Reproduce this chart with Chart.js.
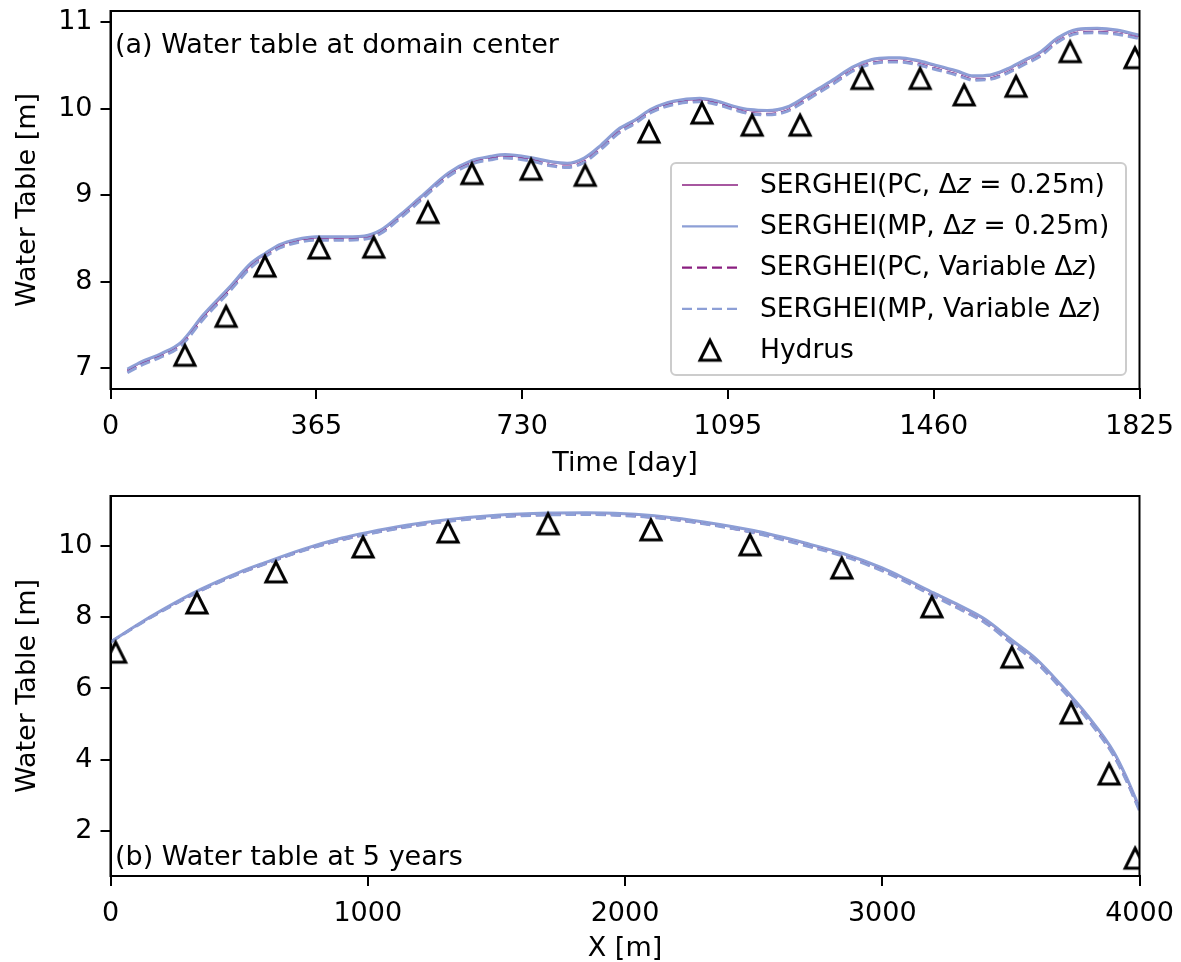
<!DOCTYPE html>
<html>
<head>
<meta charset="utf-8">
<script src="https://cdn.jsdelivr.net/npm/chart.js@4.4.0/dist/chart.umd.min.js"></script>
<style>
  html, body { margin: 0; padding: 0; background: #fff; }
  #wrap { position: relative; width: 1181px; height: 962px; }
  .box { position: absolute; left: 0; width: 1181px; }
  #top { top: 0; height: 480px; }
  #bot { top: 480px; height: 482px; }
</style>
</head>
<body>
<div id="wrap">
  <div class="box" id="top"><canvas id="c1"></canvas></div>
  <div class="box" id="bot"><canvas id="c2"></canvas></div>
</div>
<script>
// (a) water table at domain center vs time
const dayA = [30, 60, 90, 125, 165, 210, 250, 275, 300, 330, 365, 400, 450, 480, 515, 550, 600, 640, 675, 700,
  750, 780, 810, 840, 870, 900, 930, 960, 1000, 1045, 1075, 1105, 1135, 1165, 1200, 1230, 1255, 1285, 1315, 1350,
  1380, 1400, 1430, 1460, 1500, 1530, 1560, 1590, 1620, 1650, 1680, 1715, 1750, 1785, 1825];
const pcSolidA = [6.98, 7.08, 7.16, 7.29, 7.60, 7.91, 8.20, 8.32, 8.42, 8.48, 8.51, 8.51, 8.52, 8.59, 8.77, 8.97, 9.25, 9.39, 9.44, 9.46,
  9.42, 9.38, 9.36, 9.42, 9.57, 9.75, 9.86, 9.99, 10.08, 10.11, 10.08, 10.02, 9.98, 9.97, 10.01, 10.12, 10.22, 10.34, 10.47, 10.56,
  10.58, 10.58, 10.55, 10.50, 10.43, 10.37, 10.38, 10.45, 10.55, 10.65, 10.81, 10.91, 10.92, 10.90, 10.84];
const mpSolidA = [6.99, 7.09, 7.17, 7.30, 7.62, 7.93, 8.22, 8.33, 8.43, 8.49, 8.52, 8.52, 8.53, 8.60, 8.78, 8.98, 9.26, 9.40, 9.45, 9.47,
  9.43, 9.39, 9.37, 9.43, 9.58, 9.76, 9.87, 10.00, 10.09, 10.12, 10.09, 10.03, 9.99, 9.98, 10.02, 10.13, 10.23, 10.35, 10.48, 10.57,
  10.59, 10.59, 10.56, 10.51, 10.44, 10.38, 10.39, 10.46, 10.56, 10.66, 10.82, 10.92, 10.93, 10.91, 10.85];
const pcVarA = [6.96, 7.06, 7.14, 7.27, 7.58, 7.89, 8.18, 8.30, 8.40, 8.46, 8.49, 8.49, 8.50, 8.57, 8.75, 8.95, 9.23, 9.37, 9.42, 9.44,
  9.40, 9.35, 9.33, 9.39, 9.54, 9.72, 9.84, 9.97, 10.06, 10.09, 10.06, 10.00, 9.95, 9.94, 9.98, 10.09, 10.19, 10.31, 10.44, 10.53,
  10.55, 10.55, 10.52, 10.47, 10.40, 10.34, 10.35, 10.42, 10.52, 10.62, 10.78, 10.88, 10.89, 10.87, 10.82];
const mpVarA = [6.95, 7.05, 7.13, 7.26, 7.57, 7.88, 8.17, 8.29, 8.39, 8.45, 8.48, 8.48, 8.49, 8.56, 8.74, 8.94, 9.22, 9.36, 9.41, 9.43,
  9.39, 9.34, 9.32, 9.38, 9.53, 9.71, 9.83, 9.96, 10.05, 10.08, 10.05, 9.99, 9.94, 9.93, 9.97, 10.08, 10.18, 10.30, 10.43, 10.52,
  10.54, 10.54, 10.51, 10.46, 10.39, 10.33, 10.34, 10.41, 10.51, 10.61, 10.77, 10.87, 10.88, 10.86, 10.81];
const hydrusDayA = [132, 205, 274, 370, 467, 563, 641, 746, 842, 955, 1049, 1138, 1223, 1333, 1436, 1514, 1606, 1702, 1817];
const hydrusA = [7.15, 7.60, 8.18, 8.39, 8.40, 8.80, 9.25, 9.30, 9.23, 9.73, 9.95, 9.81, 9.81, 10.35, 10.35, 10.16, 10.26, 10.66, 10.59];
const xTicksA = [0, 365, 730, 1095, 1460, 1825];
const yTicksA = [7, 8, 9, 10, 11];

// (b) water table profile at 5 years
const xB = [0, 100, 200, 350, 500, 600, 750, 900, 1000, 1150, 1300, 1500, 1700, 1850, 2000, 2150, 2300, 2500, 2700, 2850,
  3000, 3100, 3200, 3300, 3400, 3500, 3600, 3700, 3800, 3900, 3950, 4000];
const pcSolidB = [7.30, 7.76, 8.19, 8.77, 9.25, 9.52, 9.90, 10.21, 10.37, 10.57, 10.72, 10.85, 10.91, 10.92, 10.89, 10.81, 10.67, 10.42, 10.07, 9.77,
  9.37, 9.03, 8.67, 8.31, 7.92, 7.36, 6.80, 6.04, 5.20, 4.19, 3.47, 2.62];
const mpSolidB = [7.30, 7.77, 8.20, 8.78, 9.26, 9.53, 9.91, 10.22, 10.38, 10.58, 10.73, 10.86, 10.92, 10.93, 10.90, 10.82, 10.68, 10.43, 10.08, 9.78,
  9.38, 9.04, 8.68, 8.33, 7.94, 7.38, 6.82, 6.06, 5.22, 4.22, 3.50, 2.65];
const pcVarB = [7.30, 7.75, 8.17, 8.74, 9.22, 9.49, 9.87, 10.17, 10.33, 10.53, 10.68, 10.81, 10.87, 10.88, 10.85, 10.77, 10.63, 10.37, 10.02, 9.72,
  9.31, 8.97, 8.60, 8.24, 7.85, 7.29, 6.73, 5.97, 5.13, 4.12, 3.41, 2.58];
const mpVarB = [7.30, 7.75, 8.17, 8.74, 9.22, 9.49, 9.87, 10.17, 10.33, 10.53, 10.68, 10.81, 10.87, 10.88, 10.85, 10.77, 10.63, 10.37, 10.01, 9.71,
  9.30, 8.96, 8.59, 8.23, 7.84, 7.28, 6.72, 5.96, 5.12, 4.11, 3.40, 2.57];
const hydrusXB = [20, 336, 643, 982, 1312, 1701, 2101, 2486, 2843, 3193, 3504, 3734, 3882, 3983];
const hydrusB = [7.02, 8.40, 9.27, 9.97, 10.39, 10.62, 10.45, 10.03, 9.38, 8.29, 6.88, 5.31, 3.60, 1.24];
const xTicksB = [0, 1000, 2000, 3000, 4000];
const yTicksB = [2, 4, 6, 8, 10];

const seriesLabels = ['SERGHEI(PC, Δz = 0.25m)', 'SERGHEI(MP, Δz = 0.25m)',
  'SERGHEI(PC, Variable Δz)', 'SERGHEI(MP, Variable Δz)', 'Hydrus'];

const PURPLE = '#8a1f80';
const BLUE = '#8d9fd6';
const FONT = 'DejaVu Sans';
const FS = 27;

// open triangle marker, centred on its bounding box like matplotlib's '^'
function makeTriangle() {
  const c = document.createElement('canvas');
  c.width = 28; c.height = 28;
  const g = c.getContext('2d');
  g.strokeStyle = '#000';
  g.lineWidth = 3;
  g.lineJoin = 'miter';
  g.beginPath();
  g.moveTo(14, 4);
  g.lineTo(4, 24);
  g.lineTo(24, 24);
  g.closePath();
  g.stroke();
  return c;
}
const tri = makeTriangle();

function pts(xs, ys) { return xs.map((x, i) => ({ x: x, y: ys[i] })); }

// order: higher drawn first; keep matplotlib's plotting order (last series on top)
function makeDatasets(xs, pcS, mpS, pcV, mpV, hx, hy) {
  return [
    { label: seriesLabels[0], data: pts(xs, pcS), borderColor: PURPLE, borderWidth: 1.5, order: 4 },
    { label: seriesLabels[1], data: pts(xs, mpS), borderColor: BLUE, borderWidth: 3, order: 3 },
    { label: seriesLabels[2], data: pts(xs, pcV), borderColor: PURPLE, borderWidth: 2.2, borderDash: [10, 5], order: 2 },
    { label: seriesLabels[3], data: pts(xs, mpV), borderColor: BLUE, borderWidth: 3, borderDash: [10, 5], order: 1 },
    { label: seriesLabels[4], data: pts(hx, hy), showLine: false, pointStyle: tri, pointRadius: 10,
      borderColor: '#000', backgroundColor: 'rgba(0,0,0,0)', order: 0 }
  ].map(d => Object.assign({ pointRadius: 0, fill: false, cubicInterpolationMode: 'monotone', clip: 0 }, d));
}

function drawMixed(ctx, label, x, y, size) {
  const normal = size + 'px "' + FONT + '"';
  const italic = 'oblique ' + size + 'px "' + FONT + '"';
  ctx.font = normal;
  const k = label.indexOf('Δz');
  if (k < 0) { ctx.fillText(label, x, y); return; }
  const head = label.slice(0, k + 1);
  const tail = label.slice(k + 2);
  ctx.fillText(head, x, y);
  x += ctx.measureText(head).width;
  ctx.font = italic;
  ctx.fillText('z', x, y);
  x += ctx.measureText('z').width;
  ctx.font = normal;
  ctx.fillText(tail, x, y);
}

const framePlugin = {
  id: 'frame',
  afterDatasetsDraw(chart) {
    const { ctx, chartArea: a } = chart;
    ctx.save();
    ctx.strokeStyle = '#000';
    ctx.lineWidth = 2;
    ctx.strokeRect(a.left, a.top, a.right - a.left, a.bottom - a.top);
    ctx.restore();
  }
};

const notePlugin = {
  id: 'note',
  afterDraw(chart, args, opts) {
    const ctx = chart.ctx;
    ctx.save();
    ctx.fillStyle = '#000';
    ctx.textBaseline = 'alphabetic';
    ctx.font = FS + 'px "' + FONT + '"';
    ctx.fillText(opts.text, opts.x, opts.y);
    if (opts.legend) {
      const L = opts.legend;
      ctx.beginPath();
      ctx.roundRect(L.x, L.y, L.w, L.h, 5);
      ctx.fillStyle = 'rgba(255,255,255,0.8)';
      ctx.fill();
      ctx.strokeStyle = '#cccccc';
      ctx.lineWidth = 2;
      ctx.stroke();
      chart.data.datasets.forEach((ds, i) => {
        const y = L.firstRow + i * L.rowGap;
        if (ds.showLine === false) {
          ctx.drawImage(ds.pointStyle, L.x + 39 - 14, y - 14);
        } else {
          ctx.beginPath();
          ctx.setLineDash(ds.borderDash || []);
          ctx.strokeStyle = ds.borderColor;
          ctx.lineWidth = Math.min(ds.borderWidth, 2.2);
          ctx.moveTo(L.x + 11, y);
          ctx.lineTo(L.x + 67, y);
          ctx.stroke();
          ctx.setLineDash([]);
        }
        ctx.fillStyle = '#000';
        ctx.textBaseline = 'middle';
        drawMixed(ctx, ds.label, L.x + 89, y + 1, 26.5);
      });
    }
    ctx.restore();
  }
};

function axisOpts(min, max, tickList, title, isX, size, titlePad) {
  return {
    type: 'linear',
    min: min, max: max,
    afterBuildTicks: s => { s.ticks = tickList.map(v => ({ value: v })); },
    afterFit: s => {
      if (isX) s.height = size; else s.width = size;
      s.paddingTop = 0; s.paddingBottom = 0; s.paddingLeft = 0; s.paddingRight = 0;
    },
    grid: { drawOnChartArea: false, drawTicks: true, tickLength: 10, color: '#000', lineWidth: 2 },
    border: { display: true, color: '#000', width: 2 },
    ticks: { color: '#000', font: { family: FONT, size: FS }, padding: isX ? 12 : 8, maxRotation: 0,
      callback: v => String(v) },
    title: { display: true, text: title, color: '#000', font: { family: FONT, size: FS }, padding: titlePad }
  };
}

function build(id, datasets, xs, ys, pad, note) {
  return new Chart(document.getElementById(id), {
    type: 'line',
    data: { datasets: datasets },
    options: {
      responsive: true,
      maintainAspectRatio: false,
      animation: false,
      events: [],
      layout: { padding: pad },
      scales: { x: xs, y: ys },
      plugins: { legend: { display: false }, tooltip: { enabled: false }, note: note }
    },
    plugins: [framePlugin, notePlugin]
  });
}

Chart.defaults.font.family = FONT;

build('c1',
  makeDatasets(dayA, pcSolidA, mpSolidA, pcVarA, mpVarA, hydrusDayA, hydrusA),
  axisOpts(0, 1825, xTicksA, 'Time [day]', true, 91, { top: 0, bottom: 0 }),
  axisOpts(6.76, 11.13, yTicksA, 'Water Table [m]', false, 110.5, { top: 12, bottom: 0 }),
  { top: 9.5, right: 41.5, left: 0, bottom: 0 },
  { text: '(a) Water table at domain center', x: 115, y: 53,
    legend: { x: 671, y: 163, w: 455, h: 212, firstRow: 185, rowGap: 41.3 } });

build('c2',
  makeDatasets(xB, pcSolidB, mpSolidB, pcVarB, mpVarB, hydrusXB, hydrusB),
  axisOpts(0, 4000, xTicksB, 'X [m]', true, 86, { top: 0, bottom: -3 }),
  axisOpts(0.74, 11.40, yTicksB, 'Water Table [m]', false, 110.5, { top: 12, bottom: 0 }),
  { top: 16, right: 41.5, left: 0, bottom: 0 },
  { text: '(b) Water table at 5 years', x: 115, y: 385 });
</script>
</body>
</html>
